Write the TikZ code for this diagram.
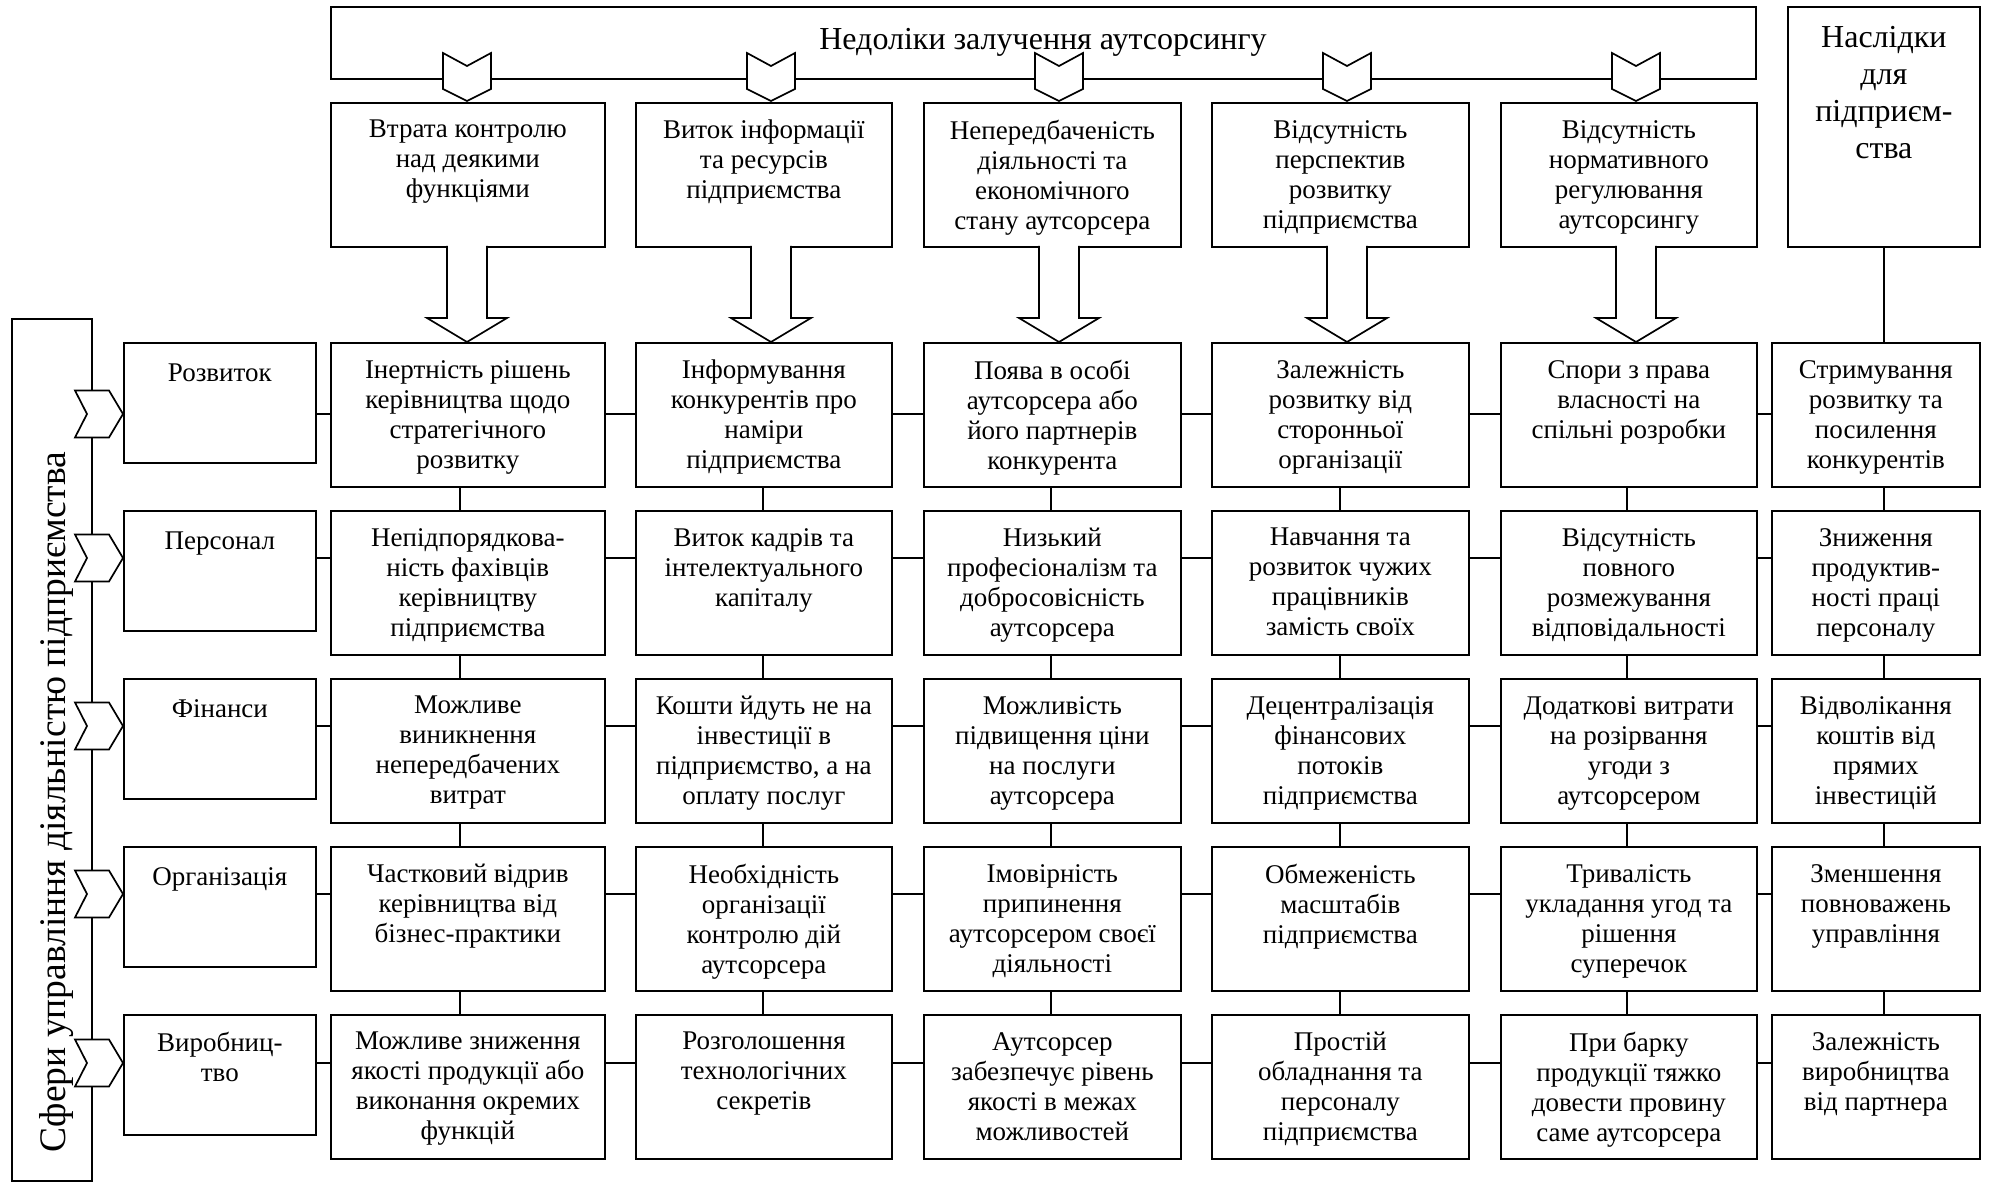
\documentclass[tikz,border=0pt]{standalone}
\usepackage{fontspec}
\setmainfont{Liberation Serif}
\usetikzlibrary{calc}
\newcommand\mycell[6]{%
  \node[bx, minimum width=#4pt, minimum height=#5pt] (#1) at (#2,#3) {};
  \node[tx] (#1t) at ([yshift=-18pt]#1.north) {#6};
}
\begin{document}
\begin{tikzpicture}[x=1pt,y=-1pt,
  bx/.style={draw, line width=1.7pt, inner sep=0pt, anchor=north west, fill=white},
  tx/.style={inner sep=0pt, anchor=north, align=center, font=\fontsize{27}{30}\selectfont, execute at begin node=\strut},
  ln/.style={line width=1.7pt},
  shp/.style={draw, line width=1.7pt, fill=white, line join=miter}]
\useasboundingbox (0,0) rectangle (1993,1182);

% left tall box and its rotated title
\node[bx, minimum width=80pt, minimum height=862pt] (side) at (11,318) {};
\node[rotate=90, anchor=base, inner sep=0pt, font=\fontsize{37.5}{44}\selectfont] (sideT) at (65,802) {Сфери управління діяльністю підприємства};

% banner
\node[bx, minimum width=1425pt, minimum height=72pt] (banner) at (330,6) {};
\node[inner sep=0pt, anchor=base, font=\fontsize{32}{37}\selectfont] (bannerT) at (1043,50) {Недоліки залучення аутсорсингу};

% consequences header
\node[bx, minimum width=192pt, minimum height=240pt] (nasl) at (1787,6) {};
\node[tx, font=\fontsize{32}{37}\selectfont] (naslT) at ([yshift=-20pt]nasl.north) {Наслідки\\для\\підприєм-\\ства};

% row 0
\mycell{r0c1}{330}{102}{274}{144}{Втрата контролю\\над деякими\\функціями}
\mycell{r0c2}{635}{102}{256}{144}{Виток інформації\\та ресурсів\\підприємства}
\mycell{r0c3}{923}{102}{257}{144}{Непередбаченість\\діяльності та\\економічного\\стану аутсорсера}
\mycell{r0c4}{1211}{102}{257}{144}{Відсутність\\перспектив\\розвитку\\підприємства}
\mycell{r0c5}{1500}{102}{256}{144}{Відсутність\\нормативного\\регулювання\\аутсорсингу}

% categories
\mycell{cat1}{123}{342}{192}{120}{Розвиток}
\mycell{cat2}{123}{510}{192}{120}{Персонал}
\mycell{cat3}{123}{678}{192}{120}{Фінанси}
\mycell{cat4}{123}{846}{192}{120}{Організація}
\mycell{cat5}{123}{1014}{192}{120}{Виробниц-\\тво}

% row 1
\mycell{r1c1}{330}{342}{274}{144}{Інертність рішень\\керівництва щодо\\стратегічного\\розвитку}
\mycell{r1c2}{635}{342}{256}{144}{Інформування\\конкурентів про\\наміри\\підприємства}
\mycell{r1c3}{923}{342}{257}{144}{Поява в особі\\аутсорсера або\\його партнерів\\конкурента}
\mycell{r1c4}{1211}{342}{257}{144}{Залежність\\розвитку від\\сторонньої\\організації}
\mycell{r1c5}{1500}{342}{256}{144}{Спори з права\\власності на\\спільні розробки}
\mycell{r1c6}{1771}{342}{208}{144}{Стримування\\розвитку та\\посилення\\конкурентів}

% row 2
\mycell{r2c1}{330}{510}{274}{144}{Непідпорядкова-\\ність фахівців\\керівництву\\підприємства}
\mycell{r2c2}{635}{510}{256}{144}{Виток кадрів та\\інтелектуального\\капіталу}
\mycell{r2c3}{923}{510}{257}{144}{Низький\\професіоналізм та\\добросовісність\\аутсорсера}
\mycell{r2c4}{1211}{510}{257}{144}{Навчання та\\розвиток чужих\\працівників\\замість своїх}
\mycell{r2c5}{1500}{510}{256}{144}{Відсутність\\повного\\розмежування\\відповідальності}
\mycell{r2c6}{1771}{510}{208}{144}{Зниження\\продуктив-\\ності праці\\персоналу}

% row 3
\mycell{r3c1}{330}{678}{274}{144}{Можливе\\виникнення\\непередбачених\\витрат}
\mycell{r3c2}{635}{678}{256}{144}{Кошти йдуть не на\\інвестиції в\\підприємство, а на\\оплату послуг}
\mycell{r3c3}{923}{678}{257}{144}{Можливість\\підвищення ціни\\на послуги\\аутсорсера}
\mycell{r3c4}{1211}{678}{257}{144}{Децентралізація\\фінансових\\потоків\\підприємства}
\mycell{r3c5}{1500}{678}{256}{144}{Додаткові витрати\\на розірвання\\угоди з\\аутсорсером}
\mycell{r3c6}{1771}{678}{208}{144}{Відволікання\\коштів від\\прямих\\інвестицій}

% row 4
\mycell{r4c1}{330}{846}{274}{144}{Частковий відрив\\керівництва від\\бізнес-практики}
\mycell{r4c2}{635}{846}{256}{144}{Необхідність\\організації\\контролю дій\\аутсорсера}
\mycell{r4c3}{923}{846}{257}{144}{Імовірність\\припинення\\аутсорсером своєї\\діяльності}
\mycell{r4c4}{1211}{846}{257}{144}{Обмеженість\\масштабів\\підприємства}
\mycell{r4c5}{1500}{846}{256}{144}{Тривалість\\укладання угод та\\рішення\\суперечок}
\mycell{r4c6}{1771}{846}{208}{144}{Зменшення\\повноважень\\управління}

% row 5
\mycell{r5c1}{330}{1014}{274}{144}{Можливе зниження\\якості продукції або\\виконання окремих\\функцій}
\mycell{r5c2}{635}{1014}{256}{144}{Розголошення\\технологічних\\секретів}
\mycell{r5c3}{923}{1014}{257}{144}{Аутсорсер\\забезпечує рівень\\якості в межах\\можливостей}
\mycell{r5c4}{1211}{1014}{257}{144}{Простій\\обладнання та\\персоналу\\підприємства}
\mycell{r5c5}{1500}{1014}{256}{144}{При барку\\продукції тяжко\\довести провину\\саме аутсорсера}
\mycell{r5c6}{1771}{1014}{208}{144}{Залежність\\виробництва\\від партнера}

% helper coordinates
\coordinate (v1) at (460,0);
\coordinate (v2) at (763,0);
\coordinate (v3) at (1051,0);
\coordinate (v4) at (1340,0);
\coordinate (v5) at (1627,0);
\coordinate (v6) at (1884,0);
\coordinate (h1) at (0,414);
\coordinate (h2) at (0,558);
\coordinate (h3) at (0,726);
\coordinate (h4) at (0,894);
\coordinate (h5) at (0,1063);

% horizontal connectors
\foreach \r in {1,...,5}{
  \draw[ln] (cat\r.east |- h\r) -- (r\r c1.west |- h\r);
  \foreach \c [evaluate=\c as \n using int(\c+1)] in {1,...,5}{
    \draw[ln] (r\r c\c.east |- h\r) -- (r\r c\n.west |- h\r);
  }
}
% vertical connectors
\foreach \r [evaluate=\r as \s using int(\r+1)] in {1,...,4}{
  \foreach \c in {1,...,6}{
    \draw[ln] (r\r c\c.south -| v\c) -- (r\s c\c.north -| v\c);
  }
}
\draw[ln] (nasl.south -| v6) -- (r1c6.north -| v6);

% chevrons from banner and block arrows
\foreach \x in {467,771,1059,1347,1636}{
  \draw[shp] (\x-24,53) -- (\x,66) -- (\x+24,53) -- (\x+24,89) -- (\x,101) -- (\x-24,89) -- cycle;
  \draw[shp] (\x-20,246) -- (\x-20,318) -- (\x-40,318) -- (\x,342) -- (\x+40,318) -- (\x+20,318) -- (\x+20,246);
}
% chevrons on the left
\foreach \y in {414,558,726,894,1063}{
  \draw[shp] (75,\y-23.5) -- (109,\y-23.5) -- (123,\y) -- (109,\y+23.5) -- (75,\y+23.5) -- (87,\y) -- cycle;
}
\end{tikzpicture}
\end{document}
